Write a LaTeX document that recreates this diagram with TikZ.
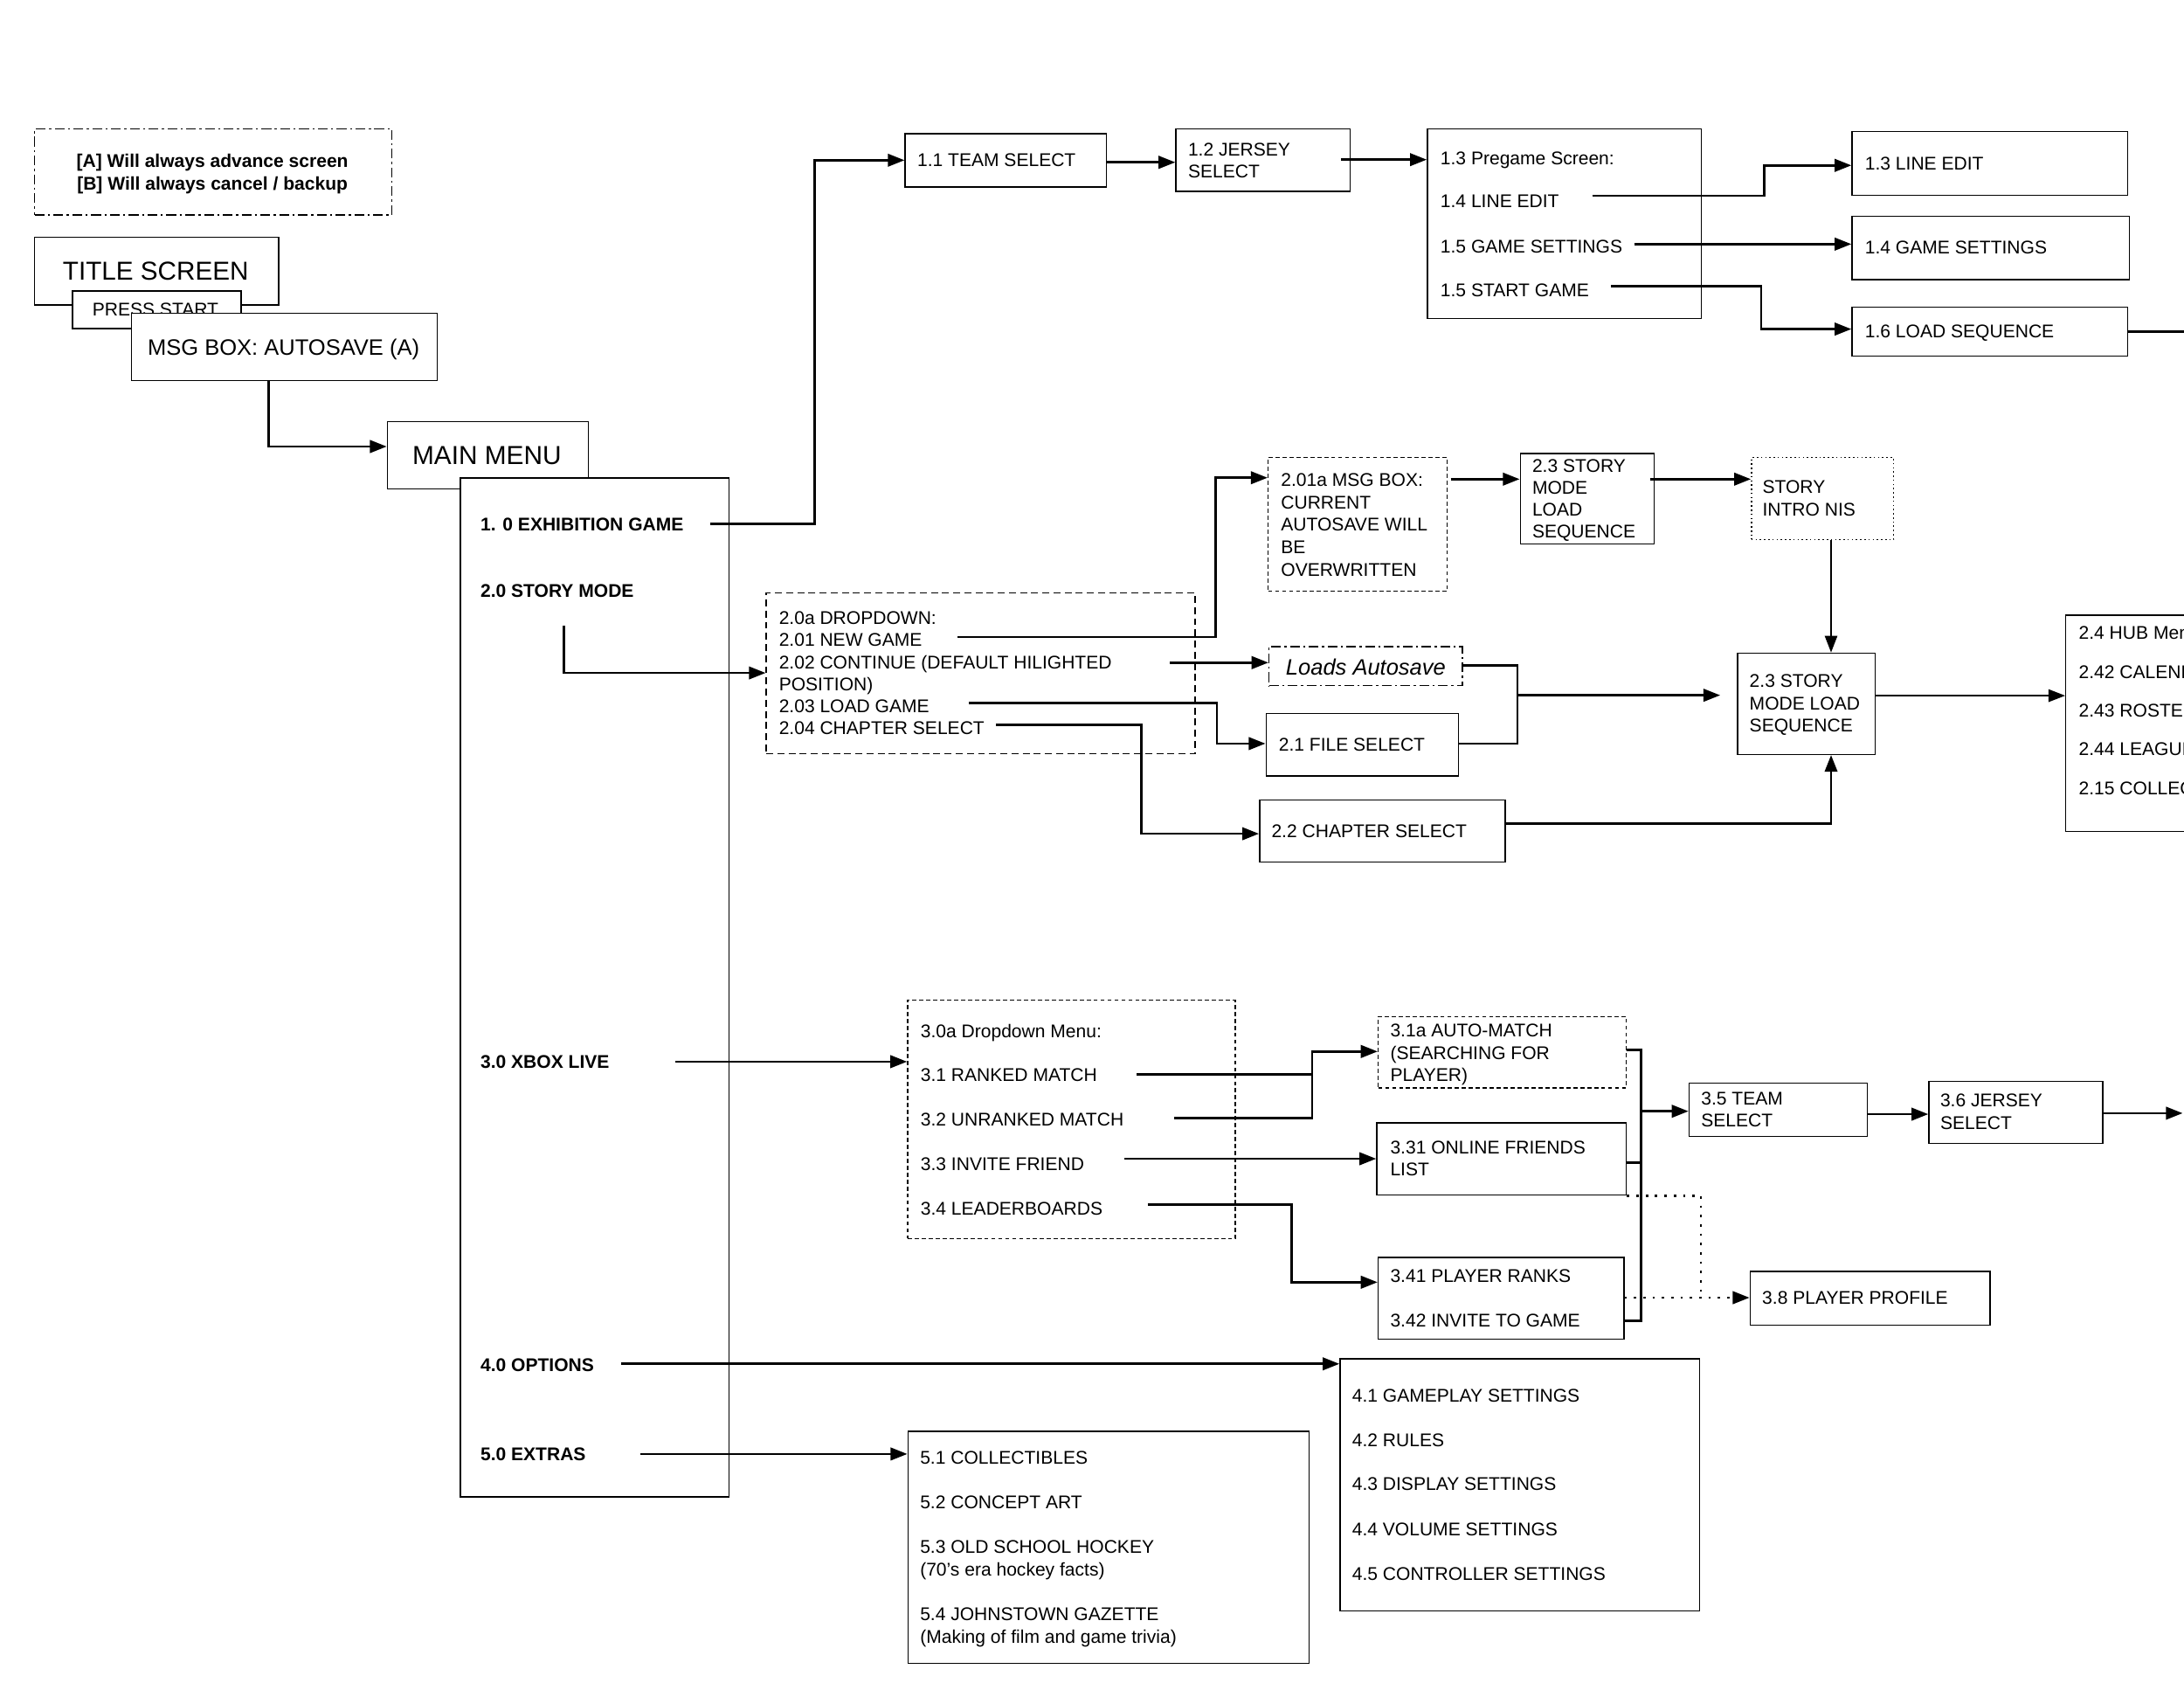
\documentclass[tikz,border=0pt]{standalone}
\usepackage{fontspec}
\setmainfont{Liberation Sans}
\usetikzlibrary{arrows.meta}
\tikzset{
 box/.style={draw, fill=white, line width=0.9pt, inner sep=0pt, anchor=north west},
 txt/.style={anchor=west, inner sep=0pt, text height=9.5pt, text depth=0pt, font=\fontsize{13.2}{16}\selectfont},
 btxt/.style={txt, font=\bfseries\fontsize{13.2}{16}\selectfont},
 ctxt/.style={anchor=center, inner sep=0pt, text depth=0pt},
 conn/.style={line width=1.7pt, -{Triangle[length=12pt,width=9pt]}},
 thinconn/.style={line width=1.1pt, -{Triangle[length=12pt,width=9pt]}},
 plain/.style={line width=1.7pt},
 dotconn/.style={line width=1.7pt, dash pattern=on 1.7pt off 5pt},
 dashdot/.style={dash pattern=on 7pt off 2.5pt on 1.5pt off 2.5pt},
 longdash/.style={dash pattern=on 5pt off 3pt},
 shortdash/.style={dash pattern=on 3pt off 2pt},
 finedot/.style={dash pattern=on 1pt off 2pt},
}
\newcommand\mybox[6][]{\node[box,#1,minimum width={#5pt-#3pt},minimum height={#6pt-#4pt}] (#2) at (#3,#4) {};}
\newcommand\mytxt[4]{\node[txt] (#1) at (#2,#3) {#4};}
\newcommand\mybtxt[4]{\node[btxt] (#1) at (#2,#3) {#4};}
\begin{document}
\begin{tikzpicture}[x=1pt,y=-1pt]
\fill[white] (0,0) rectangle (1568,1212.4);
\useasboundingbox (0,0) rectangle (1568,1212.4);
\clip (0,0) rectangle (1568,1212.4);

% legend
\mybox[dashdot]{leg}{24.5}{92}{281}{153.8}
\node[ctxt,text height=9.5pt,font=\bfseries\fontsize{13.2}{16}\selectfont] (leg1) at (152.5,115.4) {[A] Will always advance screen};
\node[ctxt,text height=9.5pt,font=\bfseries\fontsize{13.2}{16}\selectfont] (leg2) at (152.5,131.4) {[B] Will always cancel / backup};

% title / press / msg / main
\mybox{title}{24.5}{170}{199.5}{218.4}
\node[ctxt,text height=13.3pt,font=\fontsize{18.6}{22}\selectfont] (titlet) at (111.8,194.4) {TITLE SCREEN};
\mybox{press}{51.5}{208.4}{172.7}{235.3}
\node[ctxt,text height=9.5pt,font=\fontsize{13.2}{16}\selectfont] (presst) at (111.6,222.1) {PRESS START};
\mybox{msg}{94}{224.3}{313.6}{272.6}
\node[ctxt,text height=11.5pt,font=\fontsize{16}{19}\selectfont] (msgt) at (203.6,249.4) {MSG BOX: AUTOSAVE (A)};
\mybox{mainmenu}{277.6}{302.3}{422}{350.6}
\node[ctxt,text height=13.4pt,font=\fontsize{18.7}{22}\selectfont] (mainmenut) at (349.6,326.6) {MAIN MENU};
\mybox{mmlist}{330}{342.5}{523}{1074}
\mybtxt{m1}{344.8}{376}{1. 0 EXHIBITION GAME}
\mybtxt{m2}{344.8}{424}{2.0 STORY MODE}
\mybtxt{m3}{344.8}{762}{3.0 XBOX LIVE}
\mybtxt{m4}{344.8}{979.9}{4.0 OPTIONS}
\mybtxt{m5}{344.8}{1043.9}{5.0 EXTRAS}

% exhibition branch
\mybox{b11}{649.4}{95.5}{794}{133.8}
\mytxt{t11}{658.4}{115}{1.1 TEAM SELECT}
\mybox{b12}{843.8}{92.2}{969}{137}
\mytxt{t12a}{852.8}{107.3}{1.2 JERSEY}
\mytxt{t12b}{852.8}{122.7}{SELECT}
\mybox{b13}{1024.3}{92.2}{1221}{228}
\mytxt{t13a}{1034}{113.5}{1.3 Pregame Screen:}
\mytxt{t13b}{1034}{144.3}{1.4 LINE EDIT}
\mytxt{t13c}{1034}{176.7}{1.5 GAME SETTINGS}
\mytxt{t13d}{1034}{208.4}{1.5 START GAME}
\mybox{b13le}{1329.2}{94}{1527.2}{139.7}
\mytxt{t13le}{1338.8}{117.5}{1.3 LINE EDIT}
\mybox{b14gs}{1329.2}{154.7}{1528.4}{200.3}
\mytxt{t14gs}{1338.8}{177.3}{1.4 GAME SETTINGS}
\mybox{b16ls}{1329.2}{220.1}{1526.9}{255}
\mytxt{t16ls}{1338.8}{237.9}{1.6 LOAD SEQUENCE}

% story branch
\mybox[longdash]{b20a}{549.7}{425}{857.6}{540.4}
\mytxt{t20a}{559.1}{443.2}{2.0a DROPDOWN:}
\mytxt{t201}{559.1}{458.9}{2.01 NEW GAME}
\mytxt{t202}{559.1}{475.2}{2.02 CONTINUE (DEFAULT HILIGHTED}
\mytxt{t202b}{559.1}{491.3}{POSITION)}
\mytxt{t203}{559.1}{507}{2.03 LOAD GAME}
\mytxt{t204}{559.1}{522.7}{2.04 CHAPTER SELECT}
\mybox[shortdash]{b201a}{910}{327.8}{1038.5}{424}
\mytxt{t201a1}{919.5}{344.5}{2.01a MSG BOX:}
\mytxt{t201a2}{919.5}{360.6}{CURRENT}
\mytxt{t201a3}{919.5}{376.3}{AUTOSAVE WILL}
\mytxt{t201a4}{919.5}{392.6}{BE}
\mytxt{t201a5}{919.5}{408.7}{OVERWRITTEN}
\mybox{b23t}{1091}{325}{1187.3}{390}
\mytxt{t23t1}{1099.9}{334.1}{2.3 STORY}
\mytxt{t23t2}{1099.9}{349.8}{MODE}
\mytxt{t23t3}{1099.9}{365.9}{LOAD}
\mytxt{t23t4}{1099.9}{381.5}{SEQUENCE}
\mybox[finedot]{nis}{1257}{328}{1359}{386.8}
\mytxt{tnis1}{1265.2}{349.6}{STORY}
\mytxt{tnis2}{1265.2}{365.4}{INTRO NIS}
\mybox{b23l}{1247}{468.3}{1345.8}{541}
\mytxt{t23l1}{1255.9}{488.8}{2.3 STORY}
\mytxt{t23l2}{1255.9}{504.9}{MODE LOAD}
\mytxt{t23l3}{1255.9}{520.6}{SEQUENCE}
\mybox[dashdot]{bLA}{910.6}{463.7}{1049.4}{491.7}
\node[anchor=west,inner sep=0pt,text height=11.5pt,text depth=0pt,font=\itshape\fontsize{16}{19}\selectfont] (tLA) at (923,478.8) {Loads Autosave};
\mybox{b21}{908.5}{511.6}{1046.8}{556.5}
\mytxt{t21}{917.9}{534.2}{2.1 FILE SELECT}
\mybox{b22}{903.9}{573.9}{1080.1}{618.4}
\mytxt{t22}{912.7}{596.3}{2.2 CHAPTER SELECT}
\mybox{hub}{1482.7}{441.1}{1640}{596.3}
\mytxt{th1}{1492.3}{454.3}{2.4 HUB Menu}
\mytxt{th2}{1492.3}{482.5}{2.42 CALENDAR}
\mytxt{th3}{1492.3}{510.1}{2.43 ROSTER}
\mytxt{th4}{1492.3}{537.7}{2.44 LEAGUE}
\mytxt{th5}{1492.3}{565.5}{2.15 COLLECTIBLES}

% xbox live branch
\mybox[shortdash]{b30a}{651.2}{717.5}{886.4}{888.5}
\mytxt{t30a}{660.8}{740.1}{3.0a Dropdown Menu:}
\mytxt{t31}{660.8}{771.4}{3.1 RANKED MATCH}
\mytxt{t32}{660.8}{803.4}{3.2 UNRANKED MATCH}
\mytxt{t33}{660.8}{835.2}{3.3 INVITE FRIEND}
\mytxt{t34}{660.8}{867.6}{3.4 LEADERBOARDS}
\mybox[shortdash]{b31a}{989}{729.2}{1167.2}{780.4}
\mytxt{t31a1}{998}{739.7}{3.1a AUTO-MATCH}
\mytxt{t31a2}{998}{755.8}{(SEARCHING FOR}
\mytxt{t31a3}{998}{771.4}{PLAYER)}
\mybox{b331}{988}{805.5}{1167.2}{857.2}
\mytxt{t3311}{998}{823.7}{3.31 ONLINE FRIENDS}
\mytxt{t3312}{998}{839.4}{LIST}
\mybox{b341}{989}{902.1}{1165.4}{960.7}
\mytxt{t341}{998}{915.7}{3.41 PLAYER RANKS}
\mytxt{t342}{998}{947.5}{3.42 INVITE TO GAME}
\mybox{b35}{1212.2}{777.1}{1340}{815.3}
\mytxt{t351}{1221.2}{788.2}{3.5 TEAM}
\mytxt{t352}{1221.2}{804.3}{SELECT}
\mybox{b36}{1384.4}{775.6}{1509.2}{820.2}
\mytxt{t361}{1392.8}{789.8}{3.6 JERSEY}
\mytxt{t362}{1392.8}{806}{SELECT}
\mybox{b38}{1256}{912.1}{1428.2}{950.6}
\mytxt{t38}{1265}{931.4}{3.8 PLAYER PROFILE}

% options / extras
\mybox{b4}{961.6}{974.7}{1219.6}{1155.7}
\mytxt{t41}{970.6}{1001.4}{4.1 GAMEPLAY SETTINGS}
\mytxt{t42}{970.6}{1033.4}{4.2 RULES}
\mytxt{t43}{970.6}{1065.2}{4.3 DISPLAY SETTINGS}
\mytxt{t44}{970.6}{1097.6}{4.4 VOLUME SETTINGS}
\mytxt{t45}{970.6}{1129.6}{4.5 CONTROLLER SETTINGS}
\mybox{b5}{651.4}{1026.9}{939.4}{1193.4}
\mytxt{t51}{660.4}{1046}{5.1 COLLECTIBLES}
\mytxt{t52}{660.4}{1078.3}{5.2 CONCEPT ART}
\mytxt{t53}{660.4}{1110.1}{5.3 OLD SCHOOL HOCKEY}
\mytxt{t53b}{660.4}{1126.4}{(70's era hockey facts)}
\mytxt{t54}{660.4}{1158.2}{5.4 JOHNSTOWN GAZETTE}
\mytxt{t54b}{660.4}{1174.5}{(Making of film and game trivia)}

% ---- connectors ----
\draw[conn] (msg.south -| 193,0) |- (mainmenu.west |- 0,320.5);
\coordinate (sEx) at (510,376);
\draw[conn] (sEx) -| (585,115) -- (b11.west |- 0,115);
\draw[conn] (b11.east |- 0,116.5) -- (b12.west |- 0,116.5);
\coordinate (s12) at (963,114.6);
\draw[conn] (s12) -- (b13.west |- 0,114.6);
\coordinate (sLE) at (1143.2,140.5);
\draw[conn] (sLE) -| (1266.8,118.7) -- (b13le.west |- 0,118.7);
\coordinate (sGS) at (1173.2,175.2);
\draw[conn] (sGS) -- (b14gs.west |- 0,175.2);
\coordinate (sSG) at (1156.4,205.3);
\draw[conn] (sSG) -| (1264.4,236.2) -- (b16ls.west |- 0,236.2);
\coordinate (eLS) at (1572,237.9);
\draw[plain] (b16ls.east |- 0,237.9) -- (eLS);

\coordinate (sSM) at (405,449);
\draw[conn] (sSM) |- (b20a.west |- 0,483);
\coordinate (sNG) at (687.5,457.2);
\draw[conn] (sNG) -| (872.7,342.9) -- (b201a.west |- 0,342.9);
\coordinate (s201a) at (1041.6,343.9);
\draw[conn] (s201a) -- (b23t.west |- 0,343.9);
\coordinate (s23t) at (1184.6,343.9);
\draw[conn] (s23t) -- (nis.west |- 0,343.9);
\draw[thinconn] (nis.south -| 1314.6,0) -- (b23l.north -| 1314.6,0);
\coordinate (sCO) at (839.8,475.6);
\draw[conn] (sCO) -- (bLA.west |- 0,475.6);
\coordinate (sLG) at (695.4,504.5);
\draw[conn] (sLG) -| (873.7,533.7) -- (b21.west |- 0,533.7);
\coordinate (sCS) at (715.1,520.2);
\draw[conn] (sCS) -| (819.6,598.4) -- (b22.west |- 0,598.4);
\draw[plain] (bLA.east |- 0,477.7) -| (1089.5,533.7) -- (b21.east |- 0,533.7);
\coordinate (j23) at (1089.5,499);
\coordinate (e23) at (1235,499);
\draw[conn] (j23) -- (e23);
\draw[conn] (b22.east |- 0,591.2) -| (b23l.south -| 1314.6,0);
\draw[thinconn] (b23l.east |- 0,499.3) -- (hub.west |- 0,499.3);

\coordinate (sXL) at (485,762);
\draw[conn] (sXL) -- (b30a.west |- 0,762);
\coordinate (sRM) at (816.2,771);
\draw[conn] (sRM) -| (942.1,754.7) -- (b31a.west |- 0,754.7);
\coordinate (sUM) at (843.2,802.4);
\draw[plain] (sUM) -| (942.1,771);
\coordinate (sIF) at (807.2,831.7);
\draw[conn] (sIF) -- (b331.west |- 0,831.7);
\coordinate (sLB) at (824,864.5);
\draw[conn] (sLB) -| (927.2,920.3) -- (b341.west |- 0,920.3);
\draw[plain] (b31a.east |- 0,753.7) -| (1178,948.1) -- (b341.east |- 0,948.1);
\draw[plain] (b331.east |- 0,834.6) -- (1178,834.6);
\coordinate (j35) at (1178,797.6);
\draw[conn] (j35) -- (b35.west |- 0,797.6);
\draw[conn] (b35.east |- 0,799.7) -- (b36.west |- 0,799.7);
\coordinate (e36) at (1567,799);
\draw[conn] (b36.east |- 0,799) -- (e36);
\draw[dotconn] (b331.south east) -| (1221.2,931.4);
\draw[dotconn,-{Triangle[length=12pt,width=9pt]}] (b341.east |- 0,931.4) -- (b38.west |- 0,931.4);

\coordinate (sOP) at (446.2,978.9);
\draw[conn] (sOP) -- (b4.west |- 0,978.9);
\coordinate (sEX2) at (460,1043.6);
\draw[conn] (sEX2) -- (b5.west |- 0,1043.6);
\end{tikzpicture}
\end{document}
